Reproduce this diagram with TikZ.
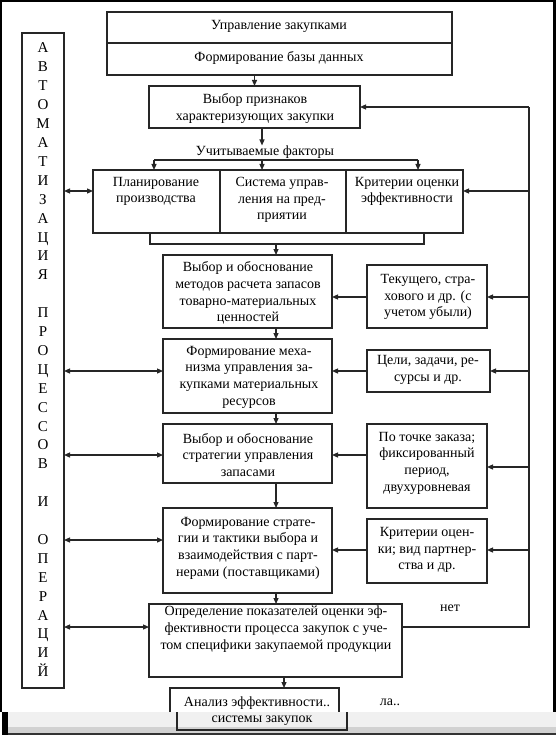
\documentclass[tikz,border=0pt]{standalone}
\usepackage{fontspec}
\setmainfont{Liberation Serif}
\usetikzlibrary{arrows.meta}
\newcommand\bxn[6]{\node[#1, minimum width={(#4-#2)*1pt}, minimum height={(#5-#3)*1pt}] (#6) at ({(#2+#4)/2},{(#3+#5)/2}) {};}
\begin{document}
\begin{tikzpicture}[x=1pt,y=-1pt,
  ln/.style={line width=1.2pt, draw=black!85},
  bx/.style={draw=black!85, line width=1.2pt, inner sep=0pt, outer sep=0pt},
  mbx/.style={bx, line width=1.8pt},
  tx/.style={font=\fontsize{14}{16.7}\selectfont, align=center, inner sep=0pt},
  lt/.style={font=\fontsize{15}{16}\selectfont, inner sep=0pt, anchor=base},
  arr/.style={ln, -{Triangle[length=6pt,width=5pt]}},
  darr/.style={ln, {Triangle[length=6pt,width=5pt]}-{Triangle[length=6pt,width=5pt]}},
]
\useasboundingbox (0,0) rectangle (556,735);
\fill[white] (0,0) rectangle (556,735);
% boxes
\bxn{bx}{107}{12}{452}{43}{top1}
\bxn{bx}{107}{43}{452}{75}{top2}
\bxn{bx}{149}{86}{360}{128}{B}
\bxn{bx}{93}{170}{220}{233}{f1}
\bxn{bx}{220}{170}{346}{233}{f2}
\bxn{bx}{346}{170}{463}{233}{f3}
\bxn{mbx}{163}{255}{332}{328}{M1}
\bxn{mbx}{163}{339}{332}{413}{M2}
\bxn{mbx}{163}{424}{332}{483}{M3}
\bxn{mbx}{163}{508}{332}{593}{M4}
\bxn{bx}{149}{604}{402}{677}{O}
\bxn{bx}{170}{688}{339}{726}{A}
\bxn{bx}{367}{265}{487}{328}{R1}
\bxn{bx}{367}{350}{490}{392}{R2}
\bxn{bx}{367}{424}{487}{508}{R3}
\bxn{bx}{367}{519}{487}{583}{R4}
\bxn{bx}{22}{33}{64}{688}{L}
% texts
\node[tx] (t1) at (279,26) {Управление закупками};
\node[tx] (t2) at (279,58) {Формирование базы данных};
\node[tx] (tB) at (255,108.5) {Выбор признаков\\характеризующих закупки};
\node[tx] (uf) at (265,152) {Учитываемые факторы};
\node[tx] (tf1) at (156,191.5) {Планирование\\производства};
\node[tx] (tf2) at (282,200) {Система управ-\\ления на пред-\\приятии};
\node[tx] (tf3) at (407,191.5) {Критерии оценки\\эффективности};
\node[tx] (tM1) at (248,293) {Выбор и обоснование\\методов расчета запасов\\товарно-материальных\\ценностей};
\node[tx] (tM2) at (249,377) {Формирование меха-\\низма управления за-\\купками материальных\\ресурсов};
\node[tx] (tM3) at (248,455) {Выбор и обоснование\\стратегии управления\\запасами};
\node[tx] (tM4) at (248,548) {Формирование страте-\\гии и тактики выбора и\\взаимодействия с парт-\\нерами (поставщиками)};
\node[tx] (tO) at (276,629) {Определение показателей оценки эф-\\фективности процесса закупок с уче-\\том специфики закупаемой продукции};
\node[tx] (tR1) at (428,297) {Текущего, стра-\\хового и др. (с\\учетом убыли)};
\node[tx] (tR2) at (428,370) {Цели, задачи, ре-\\сурсы и др.};
\node[tx] (tR3) at (427,463) {По точке заказа;\\фиксированный\\период,\\двухуровневая};
\node[tx] (tR4) at (427,550) {Критерии оцен-\\ки; вид партнер-\\ства и др.};
\node[tx] (net) at (450,608) {нет};
\node[tx] (tA) at (257,703) {Анализ эффективности..};
\node[tx] (la) at (390,702) {ла..};
\foreach \l [count=\i from 0] in {А,В,Т,О,М,А,Т,И,З,А,Ц,И,Я,{},П,Р,О,Ц,Е,С,С,О,В,{},И,{},О,П,Е,Р,А,Ц,И,Й}
  \node[lt] (L\i) at (43,{48+\i*18.9+5}) {\l};
% coordinates
\coordinate (hl) at (154,160);
\coordinate (hm) at (262,160);
\coordinate (hr) at (418,160);
\coordinate (b1) at (150,244);
\coordinate (b2) at (424,244);
\coordinate (ax) at (276,244);
\coordinate (ax2) at (284,0);
\coordinate (fb) at (529,627);
\coordinate (fbt) at (529,107);
\coordinate (r0) at (0,191);
\coordinate (r1) at (0,297);
\coordinate (r2) at (0,371);
\coordinate (r3) at (0,455);
\coordinate (r3b) at (0,467);
\coordinate (r4) at (0,550);
\coordinate (l4) at (0,540);
\coordinate (r5) at (0,627);
% connectors
\draw[arr] (top2.south -| B.north) -- (B.north);
\draw[arr] (B.south -| hm) -- (hm |- uf.north);
\draw[ln] (hl) -- (hr);
\draw[arr] (hl) -- (hl |- f1.north);
\draw[arr] (hm) -- (hm |- f2.north);
\draw[arr] (hr) -- (hr |- f3.north);
\draw[ln] (b1 |- f1.south) -- (b1) -- (b2) -- (b2 |- f3.south);
\draw[arr] (ax) -- (ax |- M1.north);
\draw[arr] (ax |- M1.south) -- (ax |- M2.north);
\draw[arr] (ax |- M2.south) -- (ax |- M3.north);
\draw[arr] (ax |- M3.south) -- (ax |- M4.north);
\draw[arr] (ax |- M4.south) -- (ax |- O.north);
\draw[arr] (ax2 |- O.south) -- (ax2 |- A.north);
\draw[ln] (O.east |- fb) -- (fb) -- (fbt);
\draw[arr] (fbt) -- (fbt -| B.east);
\draw[arr] (fb |- r0) -- (f3.east |- r0);
\draw[arr] (fb |- r1) -- (R1.east |- r1);
\draw[arr] (R1.west |- r1) -- (M1.east |- r1);
\draw[arr] (fb |- r2) -- (R2.east |- r2);
\draw[arr] (R2.west |- r2) -- (M2.east |- r2);
\draw[arr] (fb |- r3b) -- (R3.east |- r3b);
\draw[arr] (R3.west |- r3) -- (M3.east |- r3);
\draw[arr] (fb |- r4) -- (R4.east |- r4);
\draw[arr] (R4.west |- r4) -- (M4.east |- r4);
\draw[darr] (L.east |- r0) -- (f1.west |- r0);
\draw[darr] (L.east |- r2) -- (M2.west |- r2);
\draw[darr] (L.east |- r3) -- (M3.west |- r3);
\draw[darr] (L.east |- l4) -- (M4.west |- l4);
\draw[darr] (L.east |- r5) -- (O.west |- r5);
% frame and bottom bar
\fill[black] (0,0) rectangle (556,2);
\fill[black] (0,0) rectangle (2,712);
\fill[black] (553,0) rectangle (556,712);
\fill[black!6] (8,712) rectangle (556,727);
\fill[black!18] (8,727) rectangle (556,733);
\fill[black!80] (8,733) rectangle (556,735);
\fill[black] (2,712) rectangle (8,735);
\draw[ln] (177,712) -- (177,730) -- (347,730) -- (347,712);
\node[tx] (tA2) at (262,721) {системы закупок};
\end{tikzpicture}
\end{document}
